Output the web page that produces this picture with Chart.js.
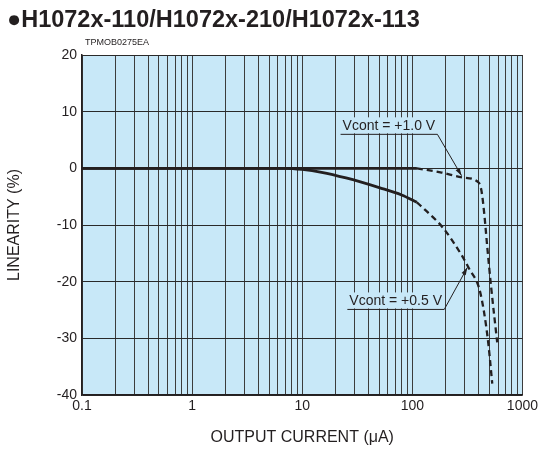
<!DOCTYPE html>
<html lang="en">
<head>
    <meta charset="UTF-8">
    <title>Linearity vs Output Current</title>
    <script src="https://cdn.jsdelivr.net/npm/chart.js"></script>
    <style>
        body { margin: 0; background: #fff; }
        #wrap { position: relative; width: 541px; height: 450px; font-family: "Liberation Sans", Arial, sans-serif; }
        #title { position: absolute; left: 7px; top: 6px; font-size: 23.5px; font-weight: bold; color: #231f20; white-space: nowrap; }
        #code { position: absolute; left: 85px; top: 37px; font-size: 9px; color: #231f20; }
    </style>
</head>
<body>
    <div id="wrap">
        <canvas id="myChart"></canvas>
        <div id="title">●H1072x-110/H1072x-210/H1072x-113</div>
        <div id="code">TPMOB0275EA</div>
    </div>
    <script>
        // ticks del eje X (log) y etiquetas
        const xTickValues = [0.1,0.2,0.3,0.4,0.5,0.6,0.7,0.8,0.9,1,2,3,4,5,6,7,8,9,10,20,30,40,50,60,70,80,90,100,200,300,400,500,600,700,800,900,1000];
        const xTickLabels = ['0.1', '1', '10', '100', '1000'];

        // Vcont = +0.5 V  (parte solida + parte discontinua)
        const v05SolidX = [0.1, 7, 10, 15, 25, 50, 80, 110];
        const v05SolidY = [0, 0, -0.2, -0.7, -1.7, -3.4, -4.7, -6.0];
        const v05DashX = [110, 130, 190, 280, 330, 405, 450, 490, 532];
        const v05DashY = [-6.0, -7.3, -10.5, -15.3, -17.8, -21.2, -25.6, -30.9, -38];

        // Vcont = +1.0 V
        const v10SolidX = [0.1, 110];
        const v10SolidY = [0, 0];
        const v10DashX = [110, 180, 285, 400, 425, 450, 480, 520, 590];
        const v10DashY = [0, -0.7, -1.6, -2.5, -4.0, -8.0, -14.0, -21.0, -30.7];

        // anotaciones: texto, inicio del texto, fin del subrayado y punta de la flecha (unidades de datos)
        const notes = [
            { text: 'Vcont = +1.0 V', left: [22.3, 6.0], end: [169, 6.0], tip: [280, -1.3] },
            { text: 'Vcont = +0.5 V', left: [25.7, -24.9], end: [195, -24.9], tip: [316, -17.5] }
        ];

        const ink = '#231f20';
        const plotBg = '#c8e8f8';
        const pts = (xs, ys) => xs.map((x, i) => ({ x: x, y: ys[i] }));

        function line(data, dashed) {
            return {
                data: data,
                borderColor: ink,
                borderWidth: dashed ? 2.3 : 2.8,
                borderDash: dashed ? [6, 4] : [],
                pointRadius: 0,
                fill: false,
                cubicInterpolationMode: 'monotone'
            };
        }

        const bgPlugin = {
            id: 'bg',
            beforeDraw(chart) {
                const a = chart.chartArea, c = chart.ctx;
                c.save();
                c.fillStyle = plotBg;
                c.fillRect(a.left, a.top, a.right - a.left, a.bottom - a.top);
                c.restore();
            }
        };

        const notePlugin = {
            id: 'notes',
            afterDatasetsDraw(chart) {
                const c = chart.ctx, sx = chart.scales.x, sy = chart.scales.y;
                c.save();
                c.strokeStyle = ink;
                c.lineWidth = 1;
                c.font = '14px "Liberation Sans", Arial, sans-serif';
                notes.forEach(n => {
                    const x0 = sx.getPixelForValue(n.left[0]), y0 = sy.getPixelForValue(n.left[1]);
                    const x1 = sx.getPixelForValue(n.end[0]);
                    const tx = sx.getPixelForValue(n.tip[0]), ty = sy.getPixelForValue(n.tip[1]);
                    // fondo del texto (tapa la rejilla)
                    c.fillStyle = plotBg;
                    c.fillRect(x0, y0 - 17, x1 - x0, 16);
                    c.fillStyle = ink;
                    c.fillText(n.text, x0 + 2, y0 - 4);
                    c.beginPath();
                    c.moveTo(x0, y0);
                    c.lineTo(x1, y0);
                    c.lineTo(tx, ty);
                    c.stroke();
                    // punta de flecha
                    const ang = Math.atan2(ty - y0, tx - x1);
                    c.beginPath();
                    c.moveTo(tx, ty);
                    c.lineTo(tx - 8 * Math.cos(ang - 0.3), ty - 8 * Math.sin(ang - 0.3));
                    c.lineTo(tx - 8 * Math.cos(ang + 0.3), ty - 8 * Math.sin(ang + 0.3));
                    c.closePath();
                    c.fill();
                });
                c.restore();
            }
        };

        const font = { family: '"Liberation Sans", Arial, sans-serif', size: 14 };

        const ctx = document.getElementById('myChart').getContext('2d');
        const myChart = new Chart(ctx, {
            type: 'line',
            data: {
                datasets: [
                    line(pts(v05SolidX, v05SolidY), false),
                    line(pts(v05DashX, v05DashY), true),
                    line(pts(v10SolidX, v10SolidY), false),
                    line(pts(v10DashX, v10DashY), true)
                ]
            },
            options: {
                responsive: true,
                maintainAspectRatio: false,
                animation: false,
                layout: { padding: { left: 0, right: 18, top: 55, bottom: 0 } },
                plugins: { legend: { display: false }, tooltip: { enabled: false } },
                scales: {
                    x: {
                        type: 'logarithmic',
                        min: 0.1,
                        max: 1000,
                        afterBuildTicks: s => { s.ticks = xTickValues.map(v => ({ value: v })); },
                        afterFit: s => { s.height = 55; },
                        ticks: {
                            autoSkip: false,
                            maxRotation: 0,
                            padding: 3,
                            color: ink,
                            font: font,
                            callback: v => xTickLabels.includes(String(v)) ? String(v) : ''
                        },
                        grid: { color: '#3c3c3c', lineWidth: 1, drawTicks: false },
                        border: { color: ink, width: 1.5 },
                        title: {
                            display: true,
                            text: 'OUTPUT CURRENT (μA)',
                            color: ink,
                            font: { family: font.family, size: 16 },
                            padding: { top: 3, bottom: 3 }
                        }
                    },
                    y: {
                        min: -40,
                        max: 20,
                        afterFit: s => { s.width = 82; },
                        ticks: { stepSize: 10, padding: 5, color: ink, font: font },
                        grid: { color: '#2a2a2a', lineWidth: 1, drawTicks: false },
                        border: { color: ink, width: 1.5 },
                        title: {
                            display: true,
                            text: 'LINEARITY (%)',
                            color: ink,
                            font: { family: font.family, size: 16 },
                            padding: { top: 5, bottom: 5 }
                        }
                    }
                }
            },
            plugins: [bgPlugin, notePlugin]
        });
    </script>
</body>
</html>
